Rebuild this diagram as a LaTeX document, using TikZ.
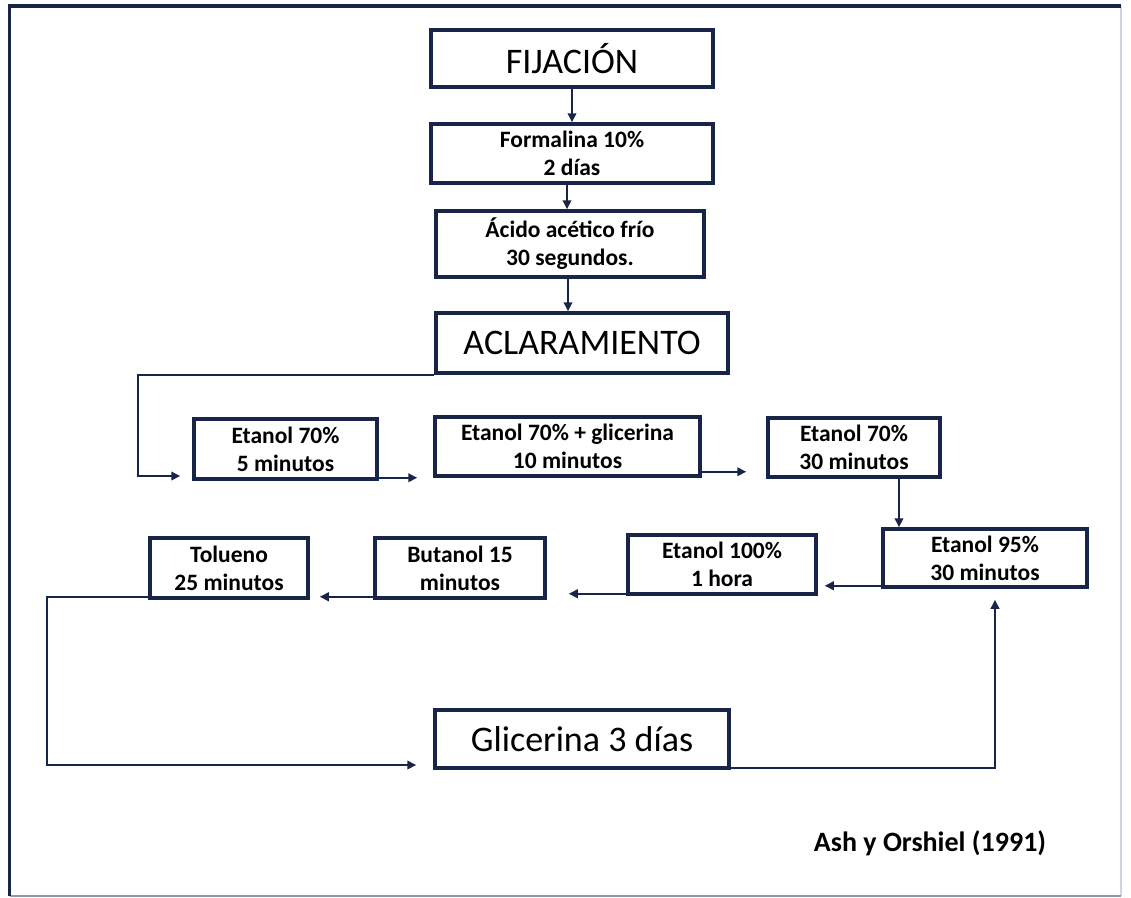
\documentclass[tikz,border=0pt]{standalone}
\usepackage{fontspec}
\setmainfont{Carlito}
\usetikzlibrary{positioning, arrows.meta}

\begin{document}
\begin{tikzpicture}[x=1pt, y=-1pt,
  caja/.style={draw=azul, line width=3.5pt, inner sep=0pt, align=center, text=black,
    font=\bfseries\fontsize{23.5}{28}\selectfont},
  titulo/.style={caja, font=\fontsize{36}{40}\selectfont},
  flecha/.style={draw=azul, line width=2pt, -{Triangle[length=9pt, width=8.5pt]}}]

% Define colors
\definecolor{azul}{RGB}{24, 36, 72}
\definecolor{grisclaro}{RGB}{205, 212, 226}
\definecolor{grisborde}{RGB}{140, 152, 175}

\useasboundingbox (0,0) rectangle (1131,897);

% Draw the frame
\draw[grisclaro, line width=1.5pt] (1121,6) -- (1121,896);
\draw[grisborde, line width=2pt] (1121,896) -- (9.5,896);
\draw[azul, line width=3.5pt] (9.5,896) -- (9.5,6) -- (1121,6);

% Draw the boxes of the fixation
\node[titulo, minimum width=282pt, minimum height=57pt] (fij) at (572,58.5) {FIJACIÓN};
\node[caja, minimum width=282pt, minimum height=59pt] (form) at (572,153.5) {Formalina 10\%\\2 días};
\node[caja, minimum width=268pt, minimum height=66pt] (acido) at (570,244) {Ácido acético frío\\30 segundos.};
\node[titulo, minimum width=292pt, minimum height=60pt] (acla) at (582,343) {ACLARAMIENTO};

% Draw the boxes of the clearing
\node[caja, minimum width=183pt, minimum height=60pt] (eta1) at (285.5,449) {Etanol 70\%\\5 minutos};
\node[caja, minimum width=265pt, minimum height=59pt] (eta2) at (567.5,446.5) {Etanol 70\% + glicerina\\10 minutos};
\node[caja, minimum width=172pt, minimum height=59pt] (eta3) at (854,447.5) {Etanol 70\%\\30 minutos};
\node[caja, minimum width=204pt, minimum height=58pt] (eta4) at (985,558) {Etanol 95\%\\30 minutos};
\node[caja, minimum width=188pt, minimum height=59pt] (eta5) at (722,564.5) {Etanol 100\%\\1 hora};
\node[caja, minimum width=170pt, minimum height=60pt] (buta) at (460,568) {Butanol 15\\minutos};
\node[caja, minimum width=158pt, minimum height=60pt] (tolu) at (229,568) {Tolueno\\25 minutos};
\node[titulo, minimum width=294pt, minimum height=58pt] (glic) at (582,739) {Glicerina 3 días};

% Add the reference
\node[font=\bfseries\fontsize{28}{32}\selectfont] (cita) at (930,843) {Ash y Orshiel (1991)};

% Draw the arrows at the top
\draw[flecha] (fij.south) -- (form.north);
\draw[flecha] ([xshift=-5pt]form.south) -- ([xshift=-5pt]form.south |- acido.north);
\draw[flecha] ([xshift=-2pt]acido.south) -- ([xshift=-2pt]acido.south |- acla.north);

% Draw the first row of arrows
\coordinate (codo1) at (138,476);
\draw[flecha, shorten >=12pt] (acla.south west) -| (codo1) -- (codo1 -| eta1.west);
\draw[flecha, shorten >=16pt] ([yshift=3pt]eta1.south east) -- ([yshift=3pt]eta1.south east -| eta2.west);
\draw[flecha, shorten >=20pt] ([yshift=6pt]eta2.south east) -- ([yshift=6pt]eta2.south east -| eta3.west);
\draw[flecha] ([xshift=45pt]eta3.south) -- ([xshift=45pt]eta3.south |- eta4.north);

% Draw the second row of arrows
\draw[flecha, shorten >=7pt] ([yshift=3pt]eta4.south west) -- ([yshift=3pt]eta4.south west -| eta5.east);
\draw[flecha, shorten >=22pt] ([yshift=2pt]eta5.south west) -- ([yshift=2pt]eta5.south west -| buta.east);
\draw[flecha, shorten >=10pt] ([yshift=3pt]buta.south west) -- ([yshift=3pt]buta.south west -| tolu.east);

% Draw the loop through the glycerine
\coordinate (codo2) at (47,765);
\draw[flecha, shorten >=17pt] ([yshift=3pt]tolu.south west) -| (codo2) -- (codo2 -| glic.west);
\coordinate (codo3) at (995,768);
\draw[flecha, shorten >=11pt] ([yshift=1.5pt]glic.south east) -| (codo3 |- eta4.south);

\end{tikzpicture}
\end{document}
